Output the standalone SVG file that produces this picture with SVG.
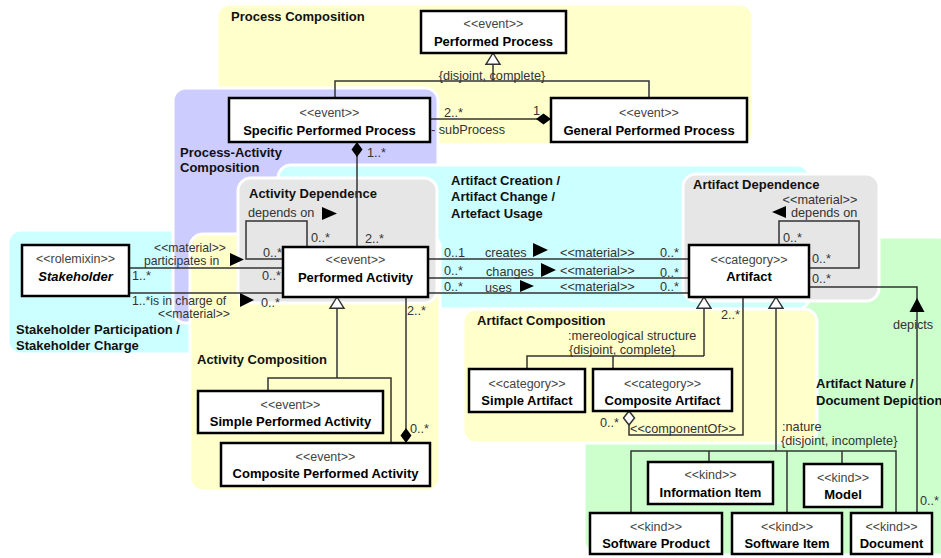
<svg xmlns="http://www.w3.org/2000/svg" width="941" height="558" viewBox="0 0 941 558">
<style>
.r{stroke:#fff;stroke-width:3}
.y{fill:#ffffcc}.p{fill:#ccccff}.c{fill:#ccffff}.g{fill:#e6e6e6}.gr{fill:#ccffcc}
.n{fill:#fff;stroke:#000;stroke-width:2.5}
.l{fill:none;stroke:#333;stroke-width:1.5}
.dir{fill:#000}
text{font-family:"Liberation Sans",Arial,sans-serif}
.st{font-size:12.5px;fill:#444;text-anchor:middle}
.nm{font-size:13px;font-weight:bold;fill:#000;text-anchor:middle}
.t{font-size:13px;font-weight:bold;fill:#111}
.lb{font-size:12.7px;fill:#333}
.sm{font-size:12.2px}
.m{text-anchor:middle}
</style>
<defs>
<marker id="gen" markerUnits="userSpaceOnUse" markerWidth="14" markerHeight="16" refX="0" refY="7.5" orient="auto" viewBox="-1 -1 14 17" overflow="visible">
<path d="M0,7.5 L12,0 L12,15 Z" fill="#fff" stroke="#333" stroke-width="1.5"/>
</marker>
<marker id="comp" markerUnits="userSpaceOnUse" markerWidth="16" markerHeight="12" refX="0" refY="5.5" orient="auto" viewBox="0 0 16 11" overflow="visible">
<path d="M0,5.5 L7.5,0 L15,5.5 L7.5,11 Z" fill="#000"/>
</marker>
<marker id="agg" markerUnits="userSpaceOnUse" markerWidth="16" markerHeight="12" refX="0" refY="5.5" orient="auto" viewBox="0 0 16 11" overflow="visible">
<path d="M0,5.5 L7,0 L14,5.5 L7,11 Z" fill="#fff" stroke="#333" stroke-width="1.5"/>
</marker>
</defs>

<g id="regions">
<rect id="reg-process-composition" class="r y" x="217" y="4" width="536" height="141" rx="13"/>
<rect id="reg-stakeholder" class="r c" x="8" y="230" width="200" height="124" rx="13"/>
<rect id="reg-process-activity" class="r p" x="173" y="88" width="265" height="235" rx="13"/>
<rect id="reg-artifact-nature" class="r gr" x="584" y="237" width="370" height="318" rx="15"/>
<rect id="reg-artifact-creation" class="r c" x="278" y="165" width="532" height="144" rx="13"/>
<rect id="reg-activity-composition" class="r y" x="190" y="234" width="250" height="257" rx="13"/>
<rect id="reg-activity-dependence" class="r g" x="238" y="178" width="199" height="125" rx="13"/>
<rect id="reg-artifact-dependence" class="r g" x="683" y="174" width="196" height="127" rx="13"/>
<rect id="reg-artifact-composition" class="r y" x="463" y="309" width="354" height="134" rx="13"/>
<text class="t" x="231" y="21">Process Composition</text>
<text class="t" x="180" y="157">Process-Activity</text>
<text class="t" x="180" y="172">Composition</text>
<text class="t" x="249" y="198">Activity Dependence</text>
<text class="t" x="16" y="334">Stakeholder Participation /</text>
<text class="t" x="16" y="350">Stakeholder Charge</text>
<text class="t" x="197" y="364">Activity Composition</text>
<text class="t" x="451" y="185">Artifact Creation /</text>
<text class="t" x="451" y="201">Artifact Change /</text>
<text class="t" x="451" y="218">Artefact Usage</text>
<text class="t" x="693" y="189">Artifact Dependence</text>
<text class="t" x="477" y="325">Artifact Composition</text>
<text class="t" x="816" y="388">Artifact Nature /</text>
<text class="t" x="816" y="405">Document Depiction</text>
</g>

<g id="connectors">
<!-- process generalization -->
<path class="l" d="M493,53 L493,81" marker-start="url(#gen)"/>
<path class="l" d="M335,98 L335,81 L649,81 L649,98"/>
<text class="lb m" x="492" y="80">{disjoint, complete}</text>
<!-- subProcess composition -->
<path class="l" d="M551,119 L430,119" marker-start="url(#comp)"/>
<text class="lb" x="444" y="117">2..*</text>
<text class="lb" x="533" y="115">1</text>
<text class="lb" x="431" y="134">- subProcess</text>
<!-- process-activity composition -->
<path class="l" d="M357,142 L357,247" marker-start="url(#comp)"/>
<text class="lb" x="367" y="157">1..*</text>
<text class="lb" x="365" y="243">2..*</text>
<!-- participates in -->
<path class="l" d="M129,268 L283,268"/>
<text class="lb sm m" x="190" y="252">&lt;&lt;material&gt;&gt;</text>
<text class="lb sm" x="144" y="265">participates in</text>
<polygon class="dir" points="230,253 244,259.5 230,266"/>
<text class="lb" x="132" y="280">1..*</text>
<text class="lb" x="262" y="280">0..*</text>
<!-- is in charge of -->
<path class="l" d="M129,293 L283,293"/>
<text class="lb sm" x="132" y="305">1..*is in charge of</text>
<polygon class="dir" points="240,293 254,300 240,307"/>
<text class="lb" x="261" y="307">0..*</text>
<text class="lb sm m" x="194" y="318">&lt;&lt;material&gt;&gt;</text>
<!-- activity depends on -->
<path class="l" d="M283,259 L246,259 L246,221 L307,221 L307,247"/>
<text class="lb" x="248" y="217">depends on</text>
<polygon class="dir" points="322,207 337,213.5 322,220"/>
<text class="lb" x="311" y="242">0..*</text>
<text class="lb" x="263" y="257">0..*</text>
<!-- creates / changes / uses -->
<path class="l" d="M428,259 L689,259"/>
<text class="lb" x="444" y="257">0..1</text>
<text class="lb" x="485" y="257">creates</text>
<polygon class="dir" points="533,243 548,250 533,257"/>
<text class="lb" x="560" y="257">&lt;&lt;material&gt;&gt;</text>
<text class="lb" x="660" y="257">0..*</text>
<path class="l" d="M428,278 L689,278"/>
<text class="lb" x="444" y="275">0..*</text>
<text class="lb" x="486" y="276">changes</text>
<polygon class="dir" points="541,263 556,270 541,277"/>
<text class="lb" x="560" y="275">&lt;&lt;material&gt;&gt;</text>
<text class="lb" x="660" y="277">0..*</text>
<path class="l" d="M428,293 L689,293"/>
<text class="lb" x="444" y="291">0..*</text>
<text class="lb" x="485" y="292">uses</text>
<polygon class="dir" points="520,280 534,286 520,292"/>
<text class="lb" x="560" y="291">&lt;&lt;material&gt;&gt;</text>
<text class="lb" x="660" y="291">0..*</text>
<!-- artifact depends on -->
<path class="l" d="M809,268 L859,268 L859,221 L779,221 L779,245"/>
<text class="lb m" x="820" y="204">&lt;&lt;material&gt;&gt;</text>
<polygon class="dir" points="786,206 772,212 786,218"/>
<text class="lb" x="791" y="217">depends on</text>
<text class="lb" x="783" y="242">0..*</text>
<text class="lb" x="812" y="263">0..*</text>
<!-- depicts -->
<path class="l" d="M809,287 L917,287 L917,513"/>
<polygon class="dir" points="917,298 924.5,312 909.5,312"/>
<text class="lb" x="812" y="283">0..*</text>
<text class="lb" x="893" y="329">depicts</text>
<text class="lb" x="920" y="505">0..*</text>
<!-- activity generalization -->
<path class="l" d="M337,297 L337,378" marker-start="url(#gen)"/>
<path class="l" d="M268,391 L268,378 L391,378 L391,443"/>
<!-- activity composition -->
<path class="l" d="M406,443 L406,297" marker-start="url(#comp)"/>
<text class="lb" x="407" y="315">2..*</text>
<text class="lb" x="410" y="433">0..*</text>
<!-- mereological generalization -->
<path class="l" d="M704,297 L704,356" marker-start="url(#gen)"/>
<path class="l" d="M527,369 L527,356 L704,356 M613,356 L613,369"/>
<text class="lb" x="568" y="340">:mereological structure</text>
<text class="lb" x="569" y="354">{disjoint, complete}</text>
<!-- componentOf -->
<path class="l" d="M629,411 L629,435 L743,435 L743,297" marker-start="url(#agg)"/>
<text class="lb" x="721" y="319">2..*</text>
<text class="lb" x="600" y="427">0..*</text>
<text class="lb" x="630" y="433">&lt;&lt;componentOf&gt;&gt;</text>
<!-- nature generalization -->
<path class="l" d="M776,297 L776,451" marker-start="url(#gen)"/>
<path class="l" d="M631,513 L631,451 L896,451 L896,513 M709,451 L709,462 M787,451 L787,513 M842,451 L842,464"/>
<text class="lb" x="782" y="431">:nature</text>
<text class="lb" x="781" y="445">{disjoint, incomplete}</text>
</g>

<g id="node-performed-process"><rect class="n" x="421" y="11" width="145" height="42"/><text class="st" x="493.5" y="28">&lt;&lt;event&gt;&gt;</text><text class="nm" x="493.5" y="46">Performed Process</text></g>
<g id="node-specific-performed-process"><rect class="n" x="229" y="98" width="201" height="44"/><text class="st" x="329.5" y="117">&lt;&lt;event&gt;&gt;</text><text class="nm" x="329.5" y="135">Specific Performed Process</text></g>
<g id="node-general-performed-process"><rect class="n" x="551" y="98" width="196" height="44"/><text class="st" x="649" y="117">&lt;&lt;event&gt;&gt;</text><text class="nm" x="649" y="135">General Performed Process</text></g>
<g id="node-stakeholder"><rect class="n" x="22" y="245" width="107" height="51"/><text class="st" x="75.5" y="263">&lt;&lt;rolemixin&gt;&gt;</text><text class="nm" x="75.5" y="281" font-style="italic">Stakeholder</text></g>
<g id="node-performed-activity"><rect class="n" x="283" y="247" width="145" height="50"/><text class="st" x="355.5" y="264">&lt;&lt;event&gt;&gt;</text><text class="nm" x="355.5" y="282">Performed Activity</text></g>
<g id="node-artifact"><rect class="n" x="689" y="245" width="120" height="52"/><text class="st" x="749" y="264">&lt;&lt;category&gt;&gt;</text><text class="nm" x="749" y="281">Artifact</text></g>
<g id="node-simple-performed-activity"><rect class="n" x="198" y="391" width="185" height="42"/><text class="st" x="290.5" y="409">&lt;&lt;event&gt;&gt;</text><text class="nm" x="290.5" y="426">Simple Performed Activity</text></g>
<g id="node-composite-performed-activity"><rect class="n" x="221" y="443" width="209" height="43"/><text class="st" x="325.5" y="461">&lt;&lt;event&gt;&gt;</text><text class="nm" x="325.5" y="478">Composite Performed Activity</text></g>
<g id="node-simple-artifact"><rect class="n" x="469" y="369" width="116" height="43"/><text class="st" x="527" y="388">&lt;&lt;category&gt;&gt;</text><text class="nm" x="527" y="405">Simple Artifact</text></g>
<g id="node-composite-artifact"><rect class="n" x="593" y="369" width="139" height="42"/><text class="st" x="662.5" y="388">&lt;&lt;category&gt;&gt;</text><text class="nm" x="662.5" y="405">Composite Artifact</text></g>
<g id="node-information-item"><rect class="n" x="648" y="462" width="125" height="42"/><text class="st" x="710.5" y="479">&lt;&lt;kind&gt;&gt;</text><text class="nm" x="710.5" y="497">Information Item</text></g>
<g id="node-model"><rect class="n" x="804" y="464" width="78" height="43"/><text class="st" x="843" y="482">&lt;&lt;kind&gt;&gt;</text><text class="nm" x="843" y="499">Model</text></g>
<g id="node-software-product"><rect class="n" x="590" y="513" width="132" height="41"/><text class="st" x="656" y="531">&lt;&lt;kind&gt;&gt;</text><text class="nm" x="656" y="548">Software Product</text></g>
<g id="node-software-item"><rect class="n" x="732" y="513" width="110" height="41"/><text class="st" x="787" y="531">&lt;&lt;kind&gt;&gt;</text><text class="nm" x="787" y="548">Software Item</text></g>
<g id="node-document"><rect class="n" x="851" y="513" width="81" height="41"/><text class="st" x="891.5" y="531">&lt;&lt;kind&gt;&gt;</text><text class="nm" x="891.5" y="548">Document</text></g>
</svg>
